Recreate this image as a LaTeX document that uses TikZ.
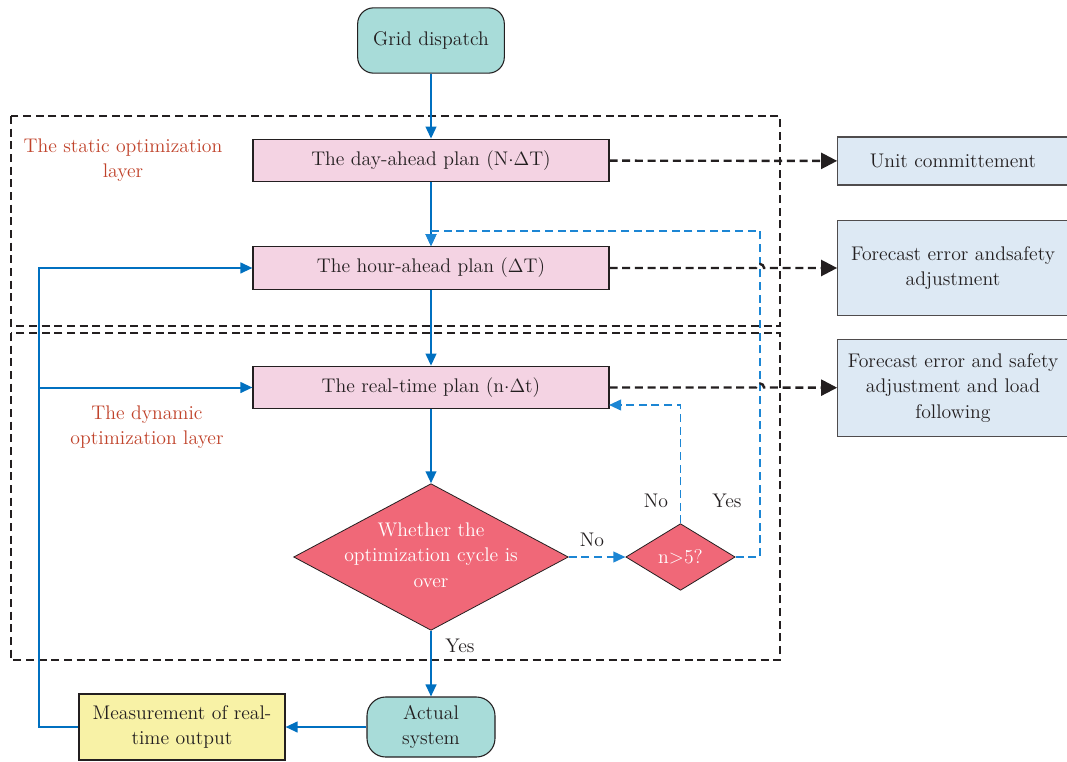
\documentclass[tikz,border=0pt]{standalone}
\usepackage{fontspec}
\usetikzlibrary{shapes.geometric,arrows.meta}

\definecolor{flowblue}{RGB}{0,112,192}
\definecolor{dashblue}{RGB}{28,134,212}
\definecolor{planpink}{RGB}{244,211,227}
\definecolor{diared}{RGB}{240,104,120}
\definecolor{termteal}{RGB}{168,220,217}
\definecolor{outblue}{RGB}{221,233,244}
\definecolor{measyellow}{RGB}{248,242,166}
\definecolor{layerred}{RGB}{192,67,43}
\definecolor{inkgray}{RGB}{35,31,32}

\begin{document}
\begin{tikzpicture}[x=0.75pt,y=0.75pt,yscale=-1,xscale=1,
  every node/.style={font=\fontsize{14.8pt}{19pt}\selectfont,text=inkgray,align=center},
  term/.style={draw=inkgray,line width=0.8pt,fill=termteal,rounded corners=12pt,inner sep=0pt},
  plan/.style={draw=inkgray,line width=0.8pt,fill=planpink,minimum width=267pt,minimum height=32pt,inner sep=0pt},
  outbox/.style={draw=inkgray!80,line width=0.8pt,fill=outblue,minimum width=173pt,inner sep=0pt},
  decide/.style={diamond,draw=inkgray,line width=0.6pt,fill=diared,inner sep=0pt},
  layer/.style={draw=inkgray,line width=0.9pt,dash pattern=on 6pt off 3.5pt},
  flow/.style={draw=flowblue,line width=1.5pt,-{Triangle[length=9pt,width=8pt]}},
  loopdash/.style={draw=dashblue,line width=1.3pt,dash pattern=on 6pt off 3.5pt,-{Triangle[length=9pt,width=8pt]}},
  outdash/.style={draw=inkgray,line width=1.8pt,dash pattern=on 6pt off 3.5pt,-{Triangle[length=12pt,width=12pt]}},
  layertext/.style={text=layerred}]
\useasboundingbox (0,0) rectangle (1067,761);

%Shape: Dashed layers
\draw[layer] (11,116) rectangle (780,326);
\draw[layer] (11,333) rectangle (780,660);

% Text Node
\node[layertext] (lstatic) at (123,160) {The static optimization\\layer};
% Text Node
\node[layertext] (ldynamic) at (147,427) {The dynamic\\optimization layer};

%Shape: Terminals
\node[term,minimum width=110pt,minimum height=49pt] (grid) at (431,40.5) {Grid dispatch};
\node[term,minimum width=96pt,minimum height=45pt,rounded corners=14pt] (act) at (431,727) {Actual\\system};

%Shape: Plans
\node[plan] (day) at (431,160.5) {The day-ahead plan (N$\cdot\Delta$T)};
\node[plan] (hour) at (431,268) {The hour-ahead plan ($\Delta$T)};
\node[plan] (real) at (431,387.5) {The real-time plan (n$\cdot\Delta$t)};

%Shape: Decisions
\node[decide,minimum width=206pt,minimum height=110pt] (cyc) at (431,557) {};
\node[text=white] (cyctext) at (431,555) {Whether the\\optimization cycle is\\over};
\node[decide,minimum width=82pt,minimum height=50pt,text=white] (cnt) at (680.5,557) {n>5?};

%Shape: Measurement
\node[draw=inkgray,line width=0.8pt,fill=measyellow,minimum width=154.5pt,minimum height=49.5pt,inner sep=0pt] (meas) at (182,727) {Measurement of real-\\time output};

%Shape: Outputs
\node[outbox,minimum height=36pt] (unit) at (953,161) {Unit committement};
\node[outbox,minimum height=71pt] (fcst) at (953,268) {Forecast error andsafety\\adjustment};
\node[outbox,minimum height=73pt] (load) at (953,388) {Forecast error and safety\\adjustment and load\\following};

%Coordinates
\coordinate (back) at (39,727);
\coordinate (yesup) at (760,231);
\coordinate (noin) at (609,405);
\coordinate (hop) at (756,0);

%Main flow
\draw[flow] (grid) -- (day);
\draw[flow] (day) -- (hour);
\draw[flow] (hour) -- (real);
\draw[flow] (real) -- (cyc);
\draw[flow] (cyc) -- (act);
\draw[flow] (act) -- (meas);
\draw[flow] (meas) -- (back) |- (hour);
\draw[flow] (back |- real.west) -- (real);

%Loops
\draw[loopdash] (cyc) -- (cnt);
\draw[loopdash] (cnt.north) |- (noin);
\draw[loopdash] (cnt.east) -| (yesup) -| (hour.north);

%Outputs
\draw[outdash] (day) -- (unit);
\draw[outdash] (hour.east) -- (hour.east -| hop) arc[start angle=180,end angle=360,radius=3pt] -- (fcst);
\draw[outdash] (real.east) -- (real.east -| hop) arc[start angle=180,end angle=360,radius=3pt] -- (load);

% Text Node
\node (lno) at (592,540) {No};
% Text Node
\node (lnoup) at (656,501) {No};
% Text Node
\node (lyesup) at (727,501) {Yes};
% Text Node
\node (lyes) at (460,646) {Yes};

\end{tikzpicture}
\end{document}
